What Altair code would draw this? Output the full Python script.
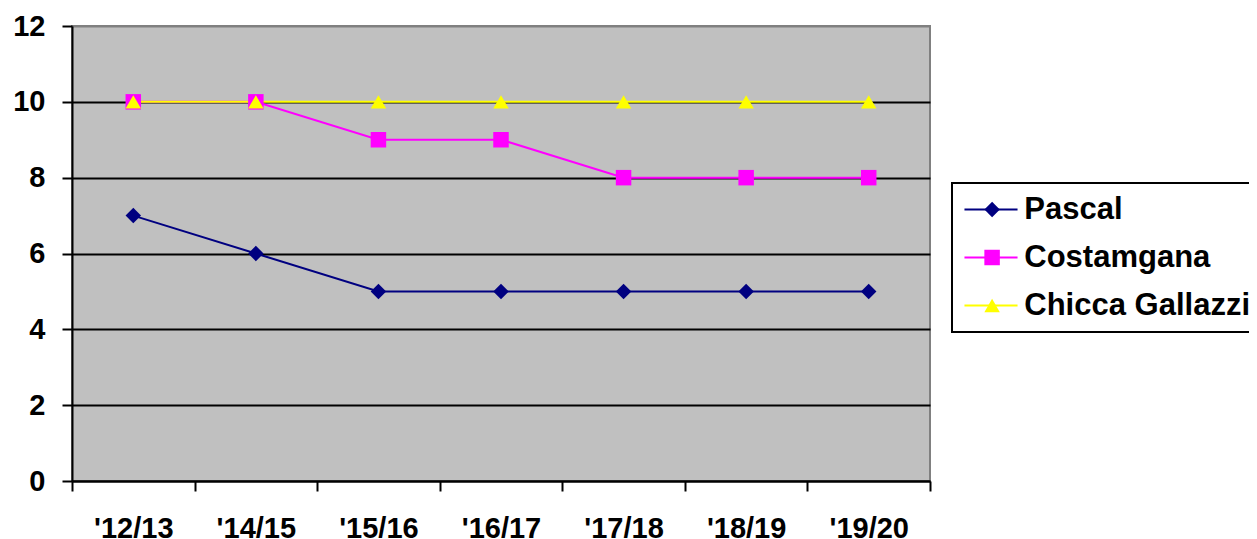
import altair as alt
import pandas as pd

seasons = ["'12/13", "'14/15", "'15/16", "'16/17", "'17/18", "'18/19", "'19/20"]
series_names = ["Pascal", "Costamgana", "Chicca Gallazzi"]
pascal = [7, 6, 5, 5, 5, 5, 5]
costamgana = [10, 10, 9, 9, 8, 8, 8]
chicca = [10, 10, 10, 10, 10, 10, 10]
colors = ["#000080", "#FF00FF", "#FFFF00"]
shapes = ["diamond", "square", "triangle-up"]
y_ticks = [0, 2, 4, 6, 8, 10, 12]

rows = []
for name, vals in zip(series_names, [pascal, costamgana, chicca]):
    for s, v in zip(seasons, vals):
        rows.append({"season": s, "series": name, "value": v})
df = pd.DataFrame(rows)

FONT = "Liberation Sans"

x_enc = alt.X(
    "season:N",
    sort=seasons,
    scale=alt.Scale(type="band", domain=seasons, paddingInner=0, paddingOuter=0),
    bandPosition=0.5,
    axis=alt.Axis(
        title=None, labelAngle=0, labelFont=FONT, labelFontWeight="bold",
        labelFontSize=29, labelColor="black", labelPadding=23,
        tickBand="extent", ticks=True, tickSize=10, tickColor="black", tickWidth=2,
        domainColor="black", domainWidth=2, grid=False,
    ),
)
y_enc = alt.Y(
    "value:Q",
    scale=alt.Scale(domain=[0, 12], nice=False, zero=True),
    axis=alt.Axis(
        title=None, values=y_ticks, labelFont=FONT, labelFontWeight="bold",
        labelFontSize=29, labelColor="black", labelPadding=17,
        tickSize=10, tickColor="black", tickWidth=2,
        domainColor="black", domainWidth=2, grid=True,
        gridColor={"condition": {"test": "datum.value === 12", "value": "#808080"}, "value": "black"},
        gridWidth=2,
    ),
)

leg_common = dict(
    orient="none", legendX=880, legendY=157, title=None, direction="vertical",
    labelFont=FONT, labelFontWeight="bold", labelFontSize=31, labelColor="black",
    labelLimit=500, padding=11, rowPadding=16,
)

line_legend = alt.Legend(
    **leg_common,
    symbolType="M-3,0L3,0", symbolSize=313, symbolStrokeWidth=2,
    symbolOffset=12.5, labelOffset=17.8,
    strokeColor="black", fillColor="white",
)
pt_legend = alt.Legend(
    **leg_common,
    symbolSize=240, symbolOffset=13.6, labelOffset=17.8, labelOpacity=0,
)

color_scale = alt.Scale(domain=series_names, range=colors)

lines = alt.Chart(df).mark_line(strokeWidth=2).encode(
    x=x_enc, y=y_enc,
    color=alt.Color("series:N", scale=color_scale, legend=line_legend),
)
points = alt.Chart(df).mark_point(filled=True, size=240, opacity=1).encode(
    x=x_enc, y=y_enc,
    color=alt.Color("series:N", scale=color_scale, legend=pt_legend),
    shape=alt.Shape("series:N", scale=alt.Scale(domain=series_names, range=shapes), legend=pt_legend),
)

chart = (
    alt.layer(lines, points)
    .resolve_scale(color="independent", shape="independent")
    .resolve_legend(color="independent", shape="independent")
    .properties(
        width=858, height=455,
        autosize=alt.AutoSizeParams(type="none"),
        padding={"left": 64, "top": 18, "right": 319, "bottom": 58},
        background="white",
    )
    .configure_view(fill="#C0C0C0", stroke="#808080", strokeWidth=2)
    .configure_legend(strokeWidth=2)
)

chart.save("out.html", embed_options={"renderer": "svg", "actions": False})
